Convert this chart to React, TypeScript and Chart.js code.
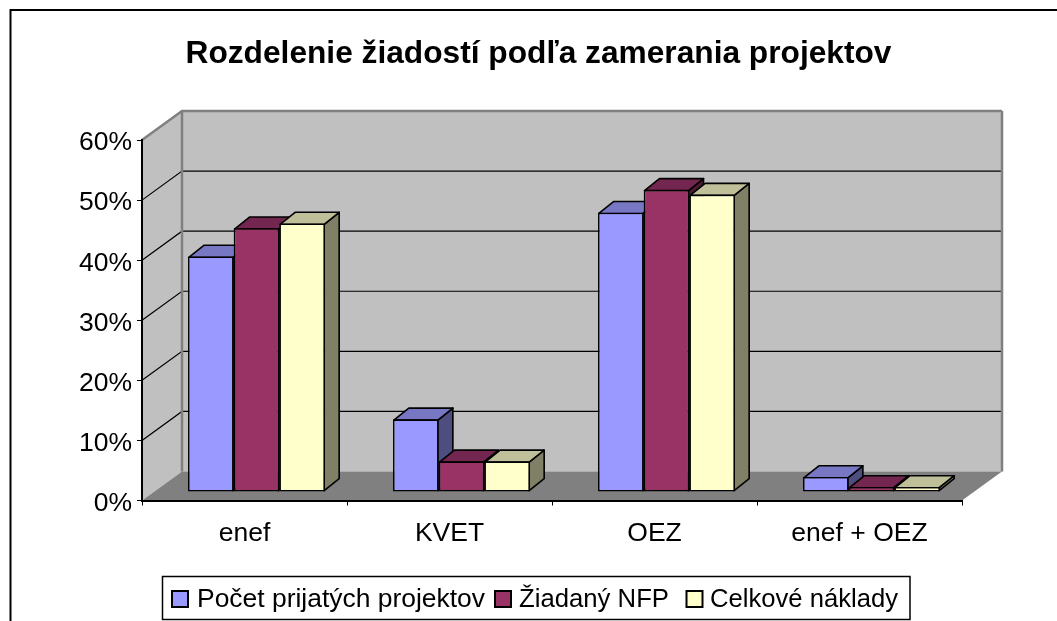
import React, { useEffect, useRef } from "react";
import { Chart, registerables } from "chart.js";

Chart.register(...registerables);

const categories = ["enef", "KVET", "OEZ", "enef + OEZ"];
const prijate = [39.2, 12.1, 46.5, 2.5];
const ziadane = [43.9, 5.1, 50.3, 0.85];
const naklady = [44.7, 5.1, 49.5, 0.85];
const seriesNames = ["Počet prijatých projektov", "Žiadaný NFP", "Celkové náklady"];
const chartTitle = "Rozdelenie žiadostí podľa zamerania projektov";

const FONT = "'Liberation Sans', Arial, sans-serif";
const FRONT = ["#9999FF", "#993366", "#FFFFCC"];
const TOP = ["#7777C4", "#732650", "#BFBF99"];
const SIDE = ["#4D4D80", "#4D1A33", "#808066"];

// 3D projection offsets in pixels
const WALL = { dx: 40, dy: -29 };
const BAR_PLANE = { dx: 12, dy: -8.5 };
const BAR_DEPTH = { dx: 15, dy: -12 };

const poly = (ctx: CanvasRenderingContext2D, pts: number[][], fill?: string, stroke?: string, lw = 1) => {
  ctx.beginPath();
  pts.forEach((p, i) => (i ? ctx.lineTo(p[0], p[1]) : ctx.moveTo(p[0], p[1])));
  ctx.closePath();
  if (fill) {
    ctx.fillStyle = fill;
    ctx.fill();
  }
  if (stroke) {
    ctx.strokeStyle = stroke;
    ctx.lineWidth = lw;
    ctx.lineJoin = "round";
    ctx.stroke();
  }
};

const scenePlugin = {
  id: "scene3d",
  beforeDraw(chart: any) {
    const { ctx, chartArea: a, scales } = chart;
    const { dx, dy } = WALL;
    ctx.save();
    // outer frame, cut off by the page on the right and at the bottom
    ctx.strokeStyle = "#000";
    ctx.lineWidth = 2;
    ctx.beginPath();
    ctx.moveTo(10.5, 640);
    ctx.lineTo(10.5, 10);
    ctx.lineTo(1070, 10);
    ctx.stroke();
    // walls and floor
    poly(ctx, [[a.left, a.top], [a.left + dx, a.top + dy], [a.left + dx, a.bottom + dy], [a.left, a.bottom]], "#C0C0C0");
    poly(ctx, [[a.left + dx, a.top + dy], [a.right + dx, a.top + dy], [a.right + dx, a.bottom + dy], [a.left + dx, a.bottom + dy]], "#C0C0C0");
    poly(ctx, [[a.left, a.bottom], [a.right, a.bottom], [a.right + dx, a.bottom + dy], [a.left + dx, a.bottom + dy]], "#808080");
    // wall grid lines
    const y = scales.y;
    y.ticks.forEach((t: any) => {
      const py = y.getPixelForValue(t.value);
      const isTop = t.value === y.max;
      if (t.value === y.min) return;
      ctx.strokeStyle = isTop ? "#808080" : "#000";
      ctx.lineWidth = isTop ? 2.5 : 1.2;
      ctx.beginPath();
      ctx.moveTo(a.left, py);
      ctx.lineTo(a.left + dx, py + dy);
      ctx.lineTo(a.right + dx, py + dy);
      ctx.stroke();
    });
    // wall edges
    ctx.strokeStyle = "#808080";
    ctx.lineWidth = 2.5;
    ctx.beginPath();
    ctx.moveTo(a.left + dx, a.top + dy);
    ctx.lineTo(a.left + dx, a.bottom + dy);
    ctx.moveTo(a.right + dx, a.top + dy);
    ctx.lineTo(a.right + dx, a.bottom + dy);
    ctx.stroke();
    ctx.restore();
  },
  beforeDatasetsDraw(chart: any) {
    const { ctx } = chart;
    const { dx, dy } = BAR_DEPTH;
    ctx.save();
    ctx.translate(BAR_PLANE.dx, BAR_PLANE.dy);
    categories.forEach((_, c) => {
      chart.data.datasets.forEach((_d: any, s: number) => {
        const el = chart.getDatasetMeta(s).data[c];
        const { x, y, base, width } = el.getProps(["x", "y", "base", "width"], true);
        const l = x - width / 2 + 0.8;
        const r = x + width / 2 - 0.8;
        const t = y + 0.8;
        const b = base - 0.8;
        poly(ctx, [[r, t], [r + dx, t + dy], [r + dx, b + dy], [r, b]], SIDE[s], "#000", 1.6);
        poly(ctx, [[l, t], [r, t], [r + dx, t + dy], [l + dx, t + dy]], TOP[s], "#000", 1.6);
      });
    });
    ctx.restore();
    // front faces are the chart's own bars, drawn in the plane of the bars
    ctx.save();
    ctx.translate(BAR_PLANE.dx, BAR_PLANE.dy);
  },
  afterDatasetsDraw(chart: any) {
    chart.ctx.restore();
  },
  afterDraw(chart: any) {
    const { ctx } = chart;
    ctx.save();
    ctx.fillStyle = "#fff";
    ctx.strokeStyle = "#000";
    ctx.lineWidth = 1.5;
    ctx.fillRect(162.5, 576.5, 747.5, 43);
    ctx.strokeRect(162.5, 576.5, 747.5, 43);
    const swatchX = [172, 495, 686.5];
    const textX = [197, 519, 710];
    const textW = [288, 150, 188];
    ctx.font = `26.5px ${FONT}`;
    ctx.textBaseline = "middle";
    seriesNames.forEach((name, i) => {
      ctx.fillStyle = FRONT[i];
      ctx.fillRect(swatchX[i], 591, 16, 16);
      ctx.lineWidth = 2;
      ctx.strokeStyle = "#000";
      ctx.strokeRect(swatchX[i], 591, 16, 16);
      ctx.fillStyle = "#000";
      ctx.fillText(name, textX[i], 600, textW[i]);
    });
    ctx.restore();
  },
};

export default function App() {
  const ref = useRef<HTMLCanvasElement>(null);
  useEffect(() => {
    const chart = new Chart(ref.current as HTMLCanvasElement, {
      type: "bar",
      data: {
        labels: categories,
        datasets: [prijate, ziadane, naklady].map((data, i) => ({
          label: seriesNames[i],
          data,
          backgroundColor: FRONT[i],
          borderColor: "#000",
          borderWidth: 1.6,
          borderSkipped: false,
          clip: false,
          categoryPercentage: 0.668,
          barPercentage: 1,
        })),
      },
      options: {
        animation: false,
        responsive: false,
        layout: { padding: { left: 20, right: 0, top: 0, bottom: 60.5 } },
        plugins: {
          legend: { display: false },
          tooltip: { enabled: false },
          title: {
            display: true,
            text: chartTitle,
            color: "#000",
            font: { family: FONT, size: 31.7, weight: "bold", lineHeight: 1.2 },
            padding: { top: 35, bottom: 67 },
          },
        },
        scales: {
          x: {
            afterFit: (s: any) => {
              s.height = 60;
            },
            grid: { drawOnChartArea: false, drawTicks: true, tickLength: 5, color: "#000", lineWidth: 1 },
            border: { display: true, color: "#000", width: 2 },
            ticks: { color: "#000", font: { family: FONT, size: 26.5 }, padding: 12, maxRotation: 0 },
          },
          y: {
            min: 0,
            max: 60,
            afterFit: (s: any) => {
              s.width = 122;
            },
            grid: { drawOnChartArea: false, drawTicks: true, tickLength: 5, color: "#000", lineWidth: 1 },
            border: { display: true, color: "#000", width: 2 },
            ticks: {
              stepSize: 10,
              color: "#000",
              font: { family: FONT, size: 26.5 },
              padding: 5,
              labelOffset: 3,
              callback: (v: any) => `${v}%`,
            },
          },
          // empty axis that keeps the plot clear of the right-hand margin
          rightMargin: {
            type: "linear",
            position: "right",
            afterFit: (s: any) => {
              s.width = 95;
            },
            grid: { display: false },
            border: { display: false },
            ticks: { display: false },
          },
        },
      } as any,
      plugins: [scenePlugin],
    });
    return () => chart.destroy();
  }, []);
  return (
    <canvas
      ref={ref}
      width={1057}
      height={621}
      style={{ position: "fixed", left: 0, top: 0, width: 1057, height: 621, display: "block", background: "#fff" }}
    />
  );
}
